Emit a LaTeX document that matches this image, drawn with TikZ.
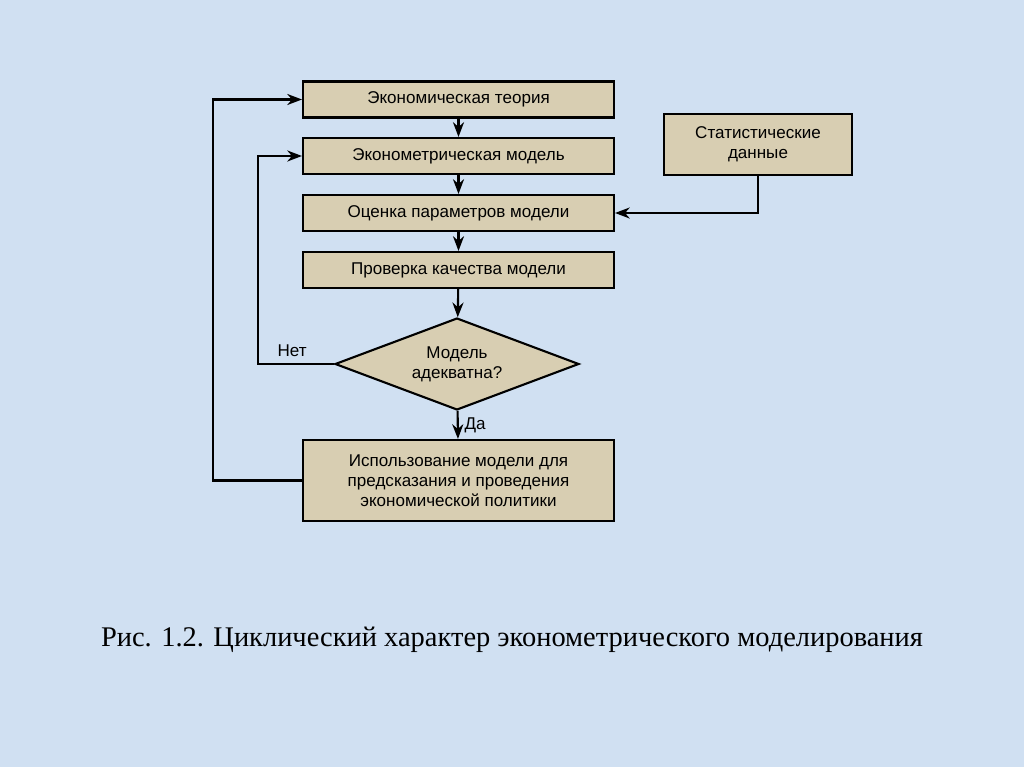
\documentclass[tikz,border=0pt]{standalone}
\usepackage{fontspec}
\setmainfont{Liberation Serif}
\newfontfamily\boxfont{Liberation Sans}
\usetikzlibrary{arrows.meta,shapes.geometric}
\definecolor{paper}{RGB}{208,224,242}
\definecolor{sand}{RGB}{216,206,178}

\begin{document}
\begin{tikzpicture}[x=0.02cm, y=-0.02cm, >=Stealth,
  stepbox/.style={draw, line width=1.2pt, fill=sand, inner sep=0pt, align=center,
    font=\boxfont\fontsize{9.7}{11.5}\selectfont, minimum width=6.22cm, minimum height=0.72cm},
  decision/.style={diamond, aspect=2.65, draw, line width=1.2pt, fill=sand, inner sep=0pt, align=center,
    font=\boxfont\fontsize{9.7}{11.5}\selectfont, minimum width=4.88cm, minimum height=1.84cm},
  link/.style={->, line width=1.2pt},
  tag/.style={font=\boxfont\fontsize{9.7}{11.5}\selectfont}]
  % background and frame of the slide
  \fill[paper] (0,0) rectangle (1024,767);
  \useasboundingbox (0,0) rectangle (1024,767);

  % main column
  \node[stepbox] (theory) at (458.5,99.5) {Экономическая теория};
  \node[stepbox] (model) at (458.5,156) {Эконометрическая модель};
  \node[stepbox] (estim) at (458.5,213) {Оценка параметров модели};
  \node[stepbox] (check) at (458.5,270) {Проверка качества модели};
  \node[decision] (adequate) at (457,364) {Модель\\адекватна?};
  \node[stepbox, minimum height=1.62cm] (use) at (458.5,480.5)
    {Использование модели для\\предсказания и проведения\\экономической политики};

  % data source on the right
  \node[stepbox, minimum width=3.76cm, minimum height=1.22cm] (data) at (758,144.5)
    {Статистические\\данные};

  % turning points of the loops
  \coordinate (noturn) at (258,364);
  \coordinate (loopturn) at (213,480.5);

  % arrows
  \draw[link] (theory) -- (model);
  \draw[link] (model) -- (estim);
  \draw[link] (estim) -- (check);
  \draw[link] (check) -- (adequate);
  \draw[link] (adequate) -- node[right, tag] {Да} (use);
  \draw[link] (adequate.west) -- node[pos=0.55, above, tag] {Нет}
    (noturn) |- (model.west);
  \draw[link] (use.west) -- (loopturn) |- (theory.west);
  \draw[link] (data.south) |- (estim.east);

  % caption
  \node[font=\fontsize{16.2}{19}\selectfont] (caption) at (512,640)
    {Рис. 1.2. Циклический характер эконометрического моделирования};
\end{tikzpicture}
\end{document}
